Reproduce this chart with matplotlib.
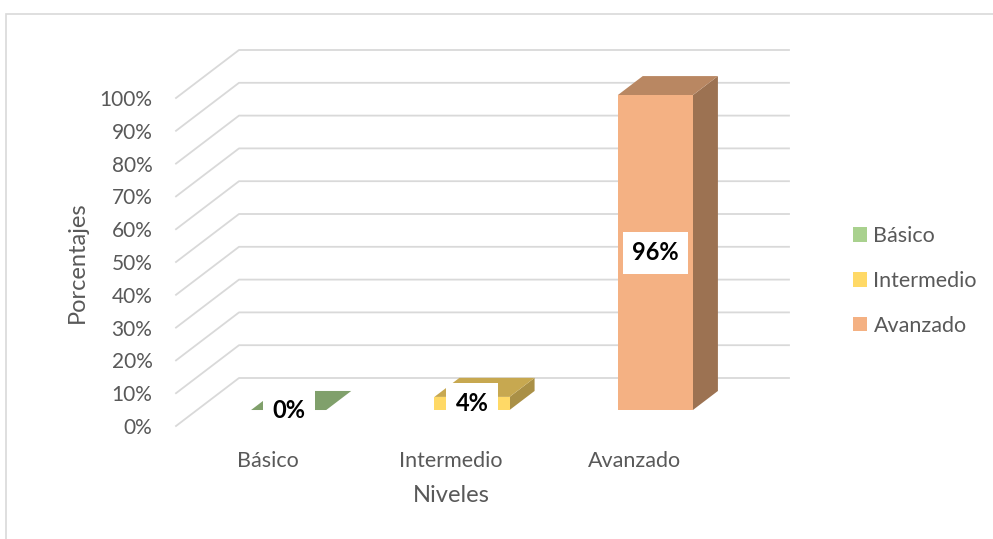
import matplotlib.pyplot as plt
from matplotlib.patches import Polygon, Rectangle, Patch

niveles = ["Básico", "Intermedio", "Avanzado"]
porcentajes = [0, 4, 96]
ticks = list(range(0, 101, 10))
tick_labels = [f"{t}%" for t in ticks]

# colores de cada serie: cara frontal, tapa, lateral
frente = ["#A9D18E", "#FFD966", "#F4B183"]
tapa = ["#80A06B", "#C7A850", "#B98762"]
lateral = ["#6F8C5D", "#AA9046", "#9C7252"]

plt.rcParams["font.family"] = ["Lato", "DejaVu Sans"]
gris = "#595959"

fig = plt.figure(figsize=(9.93, 5.39), dpi=100)
ax = fig.add_axes([176 / 993, 113 / 539, 550 / 993, 328 / 539])
ax.set_xlim(-0.5, 2.5)
ax.set_ylim(0, 100)

# desplazamiento de profundidad (perspectiva oblicua) en unidades de datos
DX = 63 / 183.3
DY = 48 / 3.28
f0, f1 = 0.333, 0.73
media = 0.205

# pared del fondo con lineas de division
for t in ticks:
    ax.plot([-0.5, -0.5 + DX, 2.5 + DX], [t, t + DY, t + DY],
            color="#D9D9D9", lw=1.3, clip_on=False, zorder=1)

for i, v in enumerate(porcentajes):
    x0 = i - media + f0 * DX
    x1 = i + media + f0 * DX
    y0 = f0 * DY
    y1 = y0 + v
    ddx = (f1 - f0) * DX
    ddy = (f1 - f0) * DY
    ax.add_patch(Polygon([(x1, y0), (x1 + ddx, y0 + ddy), (x1 + ddx, y1 + ddy), (x1, y1)],
                         closed=True, fc=lateral[i], ec="none", clip_on=False, zorder=2))
    ax.add_patch(Polygon([(x0, y1), (x1, y1), (x1 + ddx, y1 + ddy), (x0 + ddx, y1 + ddy)],
                         closed=True, fc=tapa[i], ec="none", clip_on=False, zorder=3))
    if v > 0:
        ax.add_patch(Rectangle((x0, y0), x1 - x0, v, fc=frente[i], ec="none",
                               clip_on=False, zorder=4))
    ax.text((x0 + x1) / 2, y0 + v / 2, f"{v}%", ha="center", va="center",
            fontsize=17, fontweight="bold", color="black", zorder=5,
            bbox=dict(boxstyle="square,pad=0.4", fc="white", ec="none"))

for s in ax.spines.values():
    s.set_visible(False)
ax.set_yticks(ticks)
ax.set_yticklabels(tick_labels)
ax.set_xticks(range(len(niveles)))
ax.set_xticklabels(niveles)
ax.tick_params(axis="y", length=0, pad=17, labelsize=15, labelcolor=gris)
ax.tick_params(axis="x", length=0, pad=18, labelsize=15.5, labelcolor=gris)
ax.set_xlabel("Niveles", fontsize=17, color=gris, labelpad=10)
ax.set_ylabel("Porcentajes", fontsize=17, color=gris, labelpad=8)
ax.patch.set_visible(False)

handles = [Patch(fc=c, ec="none") for c in frente]
fig.legend(handles, niveles, loc="center left", bbox_to_anchor=(853 / 993, 258 / 539),
           frameon=False, fontsize=15.5, labelcolor=gris, handlelength=0.65,
           handleheight=0.65, handletextpad=0.3, labelspacing=1.15, borderpad=0,
           borderaxespad=0)

fig.add_artist(Rectangle((6 / 993, -0.01), 1.0, 525 / 539 + 0.01, transform=fig.transFigure,
                         fill=False, ec="#D9D9D9", lw=1.2))

fig.savefig("out.png", dpi=100, facecolor="white")
